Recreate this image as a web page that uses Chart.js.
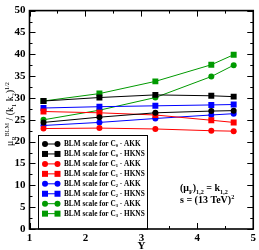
<!DOCTYPE html>
<html>
<head>
<meta charset="utf-8">
<script src="https://cdn.jsdelivr.net/npm/chart.js@4.4.1/dist/chart.umd.min.js"></script>
<style>
  html, body { margin: 0; padding: 0; background: #fff; }
  #wrap { width: 259px; height: 250px; position: relative; }
</style>
</head>
<body>
<div id="wrap"><canvas id="myChart"></canvas></div>
<script>
// rapidity points
const rapidity = [1.25, 2.25, 3.25, 4.25, 4.65];

// BLM scale values
const c0Akk  = [24.4, 25.6, 26.6, 27.0, 27.1];
const c0Hkns = [29.3, 30.1, 30.7, 30.5, 30.3];
const c1Akk  = [23.0, 23.1, 22.9, 22.5, 22.4];
const c1Hkns = [26.9, 26.6, 26.1, 24.9, 24.4];
const c2Akk  = [23.7, 24.4, 25.3, 26.1, 26.4];
const c2Hkns = [27.7, 28.0, 28.2, 28.4, 28.5];
const c3Akk  = [25.0, 27.2, 30.1, 34.9, 37.5];
const c3Hkns = [29.3, 31.0, 33.8, 37.6, 39.9];

const seriesIdx = ["0", "0", "1", "1", "2", "2", "3", "3"];
const seriesPdf = ["AKK", "HKNS", "AKK", "HKNS", "AKK", "HKNS", "AKK", "HKNS"];
const xTicks = [1, 2, 3, 4, 5];

const colori = ["#000000", "#000000", "#ff0000", "#ff0000", "#0000ff", "#0000ff", "#009a00", "#009a00"];
const serije = [c0Akk, c0Hkns, c1Akk, c1Hkns, c2Akk, c2Hkns, c3Akk, c3Hkns];

const serif = "'Liberation Serif', 'Times New Roman', serif";

let datasets = [];
for (let i = 0; i < serije.length; i++) {
    let isSquare = seriesPdf[i] === "HKNS";
    datasets.push({
        label: "BLM scale for C" + seriesIdx[i] + " - " + seriesPdf[i],
        data: serije[i].map((v, j) => ({x: rapidity[j], y: v})),
        borderColor: colori[i],
        backgroundColor: colori[i],
        borderWidth: 1,
        pointStyle: isSquare ? "rect" : "circle",
        pointRadius: isSquare ? 4.2 : 3,
        pointBorderWidth: 0,
        tension: 0
    });
}

// draws text pieces, some of them sub/superscript
function richText(ctx, x, y, parts, size, weight) {
    for (let p of parts) {
        let s = p.sub || p.sup ? size * 0.62 : size;
        let dy = p.sub ? size * 0.28 : (p.sup ? -size * 0.42 : 0);
        ctx.font = weight + " " + s + "px " + serif;
        ctx.fillText(p.t, x, y + dy);
        x += ctx.measureText(p.t).width;
    }
    return x;
}
function richWidth(ctx, parts, size, weight) {
    let w = 0;
    for (let p of parts) {
        let s = p.sub || p.sup ? size * 0.62 : size;
        ctx.font = weight + " " + s + "px " + serif;
        w += ctx.measureText(p.t).width;
    }
    return w;
}

const okvir = {
    id: "okvir",
    afterDraw(chart) {
        let ctx = chart.ctx;
        let a = chart.chartArea;
        let xs = chart.scales.x, ys = chart.scales.y;
        ctx.save();
        ctx.strokeStyle = "#000";
        ctx.lineWidth = 1;
        // ticks inside on all sides
        for (let v = 0; v <= 50; v += 2.5) {
            let p = Math.round(ys.getPixelForValue(v)) + 0.5;
            let len = v % 5 === 0 ? 6 : 3;
            ctx.beginPath();
            ctx.moveTo(a.left, p); ctx.lineTo(a.left + len, p);
            ctx.moveTo(a.right, p); ctx.lineTo(a.right - len, p);
            ctx.stroke();
        }
        for (let v = 1; v <= 5; v += 0.5) {
            let p = Math.round(xs.getPixelForValue(v)) + 0.5;
            let len = v % 1 === 0 ? 6 : 3;
            ctx.beginPath();
            ctx.moveTo(p, a.bottom); ctx.lineTo(p, a.bottom - len);
            ctx.moveTo(p, a.top); ctx.lineTo(p, a.top + len);
            ctx.stroke();
        }

        // legend box
        ctx.lineWidth = 1;
        let lx = 38.5, ly = 135.5, lw = 109, lh = a.bottom - ly;
        ctx.fillStyle = "#fff";
        ctx.fillRect(lx, ly, lw, lh);
        ctx.strokeRect(lx, ly, lw, lh);
        let ds = chart.data.datasets;
        for (let i = 0; i < ds.length; i++) {
            let yy = 144 + i * 9.95;
            ctx.strokeStyle = ds[i].borderColor;
            ctx.fillStyle = ds[i].borderColor;
            ctx.beginPath();
            ctx.moveTo(45, yy); ctx.lineTo(57.5, yy);
            ctx.stroke();
            for (let mx of [45, 57.5]) {
                if (ds[i].pointStyle === "rect") {
                    ctx.fillRect(mx - 3, yy - 3, 6, 6);
                } else {
                    ctx.beginPath();
                    ctx.arc(mx, yy, 3, 0, Math.PI * 2);
                    ctx.fill();
                }
            }
            ctx.fillStyle = "#000";
            ctx.textBaseline = "middle";
            ctx.textAlign = "left";
            richText(ctx, 64, yy, [
                {t: "BLM scale for C"},
                {t: seriesIdx[i], sub: true},
                {t: " - " + seriesPdf[i]}
            ], 7.3, "bold");
        }

        // frame
        ctx.strokeStyle = "#000";
        ctx.lineWidth = 1.6;
        ctx.strokeRect(a.left, a.top, a.right - a.left, a.bottom - a.top);

        // annotation
        ctx.fillStyle = "#000";
        ctx.textBaseline = "alphabetic";
        richText(ctx, 180, 191, [
            {t: "(\u03bc"}, {t: "F", sub: true}, {t: ")"}, {t: "1,2", sub: true},
            {t: " = k"}, {t: "1,2", sub: true}
        ], 10, "bold");
        richText(ctx, 180, 203, [
            {t: "s = (13 TeV)"}, {t: "2", sup: true}
        ], 10, "bold");

        // y title
        let parts = [
            {t: "\u03bc"}, {t: "R", sub: true}, {t: "BLM", sup: true},
            {t: " / (k"}, {t: "1", sub: true}, {t: " k"}, {t: "2", sub: true},
            {t: ")"}, {t: "1/2", sup: true}
        ];
        let w = richWidth(ctx, parts, 10, "normal");
        ctx.translate(10, 114);
        ctx.rotate(-Math.PI / 2);
        richText(ctx, -w / 2, 3, parts, 10, "normal");
        ctx.restore();

        // x title
        ctx.save();
        ctx.fillStyle = "#000";
        ctx.font = "bold 11px " + serif;
        ctx.textAlign = "center";
        ctx.textBaseline = "alphabetic";
        ctx.fillText("Y", (a.left + a.right) / 2, 249);
        ctx.restore();
    }
};

let ctx = document.getElementById("myChart");
const config = {
    type: "line",
    data: {datasets: datasets},
    options: {
        responsive: true,
        maintainAspectRatio: false,
        animation: false,
        layout: {padding: {top: 4, right: 3, left: 0, bottom: 0}},
        plugins: {legend: {display: false}, tooltip: {enabled: false}},
        scales: {
            x: {
                type: "linear",
                min: 1, max: 5,
                afterFit: s => { s.height = 21; },
                afterBuildTicks: s => { s.ticks = xTicks.map(v => ({value: v})); },
                grid: {display: false, drawTicks: false},
                border: {display: false},
                ticks: {color: "#000", padding: 3, font: {family: serif, size: 11, weight: "bold"}}
            },
            y: {
                min: 0, max: 50,
                afterFit: s => { s.width = 29.5; },
                grid: {display: false, drawTicks: false},
                border: {display: false},
                ticks: {stepSize: 5, color: "#000", padding: 4, font: {family: serif, size: 11, weight: "bold"}}
            }
        }
    },
    plugins: [okvir]
};
let chart = new Chart(ctx, config);
</script>
</body>
</html>
